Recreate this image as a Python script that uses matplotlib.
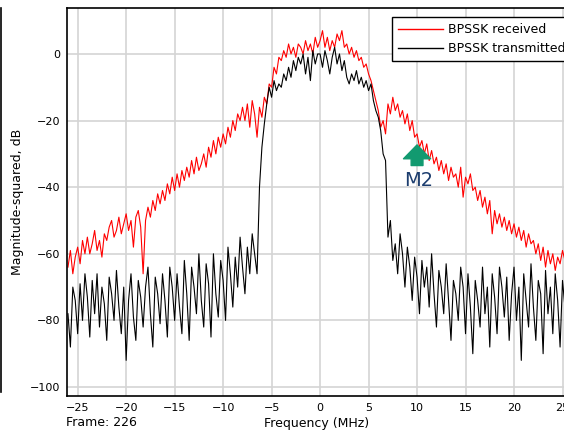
import numpy as np
import matplotlib
matplotlib.use("Agg")
import matplotlib.pyplot as plt
from matplotlib.lines import Line2D

# frequency axis (MHz), 0.25 MHz step
freq = np.arange(206) * 0.25 - 26.0

received = [
    -64, -59, -66, -61, -58, -63, -56, -60,
    -55, -60, -57, -53, -59, -56, -61, -54,
    -56, -52, -50, -55, -53, -49, -54, -51,
    -48, -53, -50, -58, -49, -47, -52, -66,
    -50, -46, -49, -44, -47, -42, -45, -41,
    -44, -39, -42, -37, -41, -36, -40, -35,
    -38, -34, -37, -32, -36, -31, -35, -33,
    -30, -34, -28, -31, -26, -30, -25, -28,
    -24, -27, -22, -25, -20, -23, -18, -20,
    -16, -20, -15, -22, -14, -18, -25, -16,
    -19, -13, -15, -9, -10, -4, -6, -1,
    -2, 1, -1, 3, 0, 2, -1, 3,
    2, 0, 4, 1, 3, 0, 5, 2,
    4, 7, 2, 5, 1, 4, 2, 6,
    4, 7, 2, 3, 0, 2, -1, 1,
    -2, -1, -4, -3, -6, -8, -11, -14,
    -17, -22, -20, -24, -15, -18, -13, -17,
    -15, -19, -17, -21, -18, -23, -20, -25,
    -24, -28, -26, -30, -27, -32, -29, -33,
    -31, -35, -32, -36, -33, -38, -34, -37,
    -36, -40, -34, -43, -37, -39, -36, -41,
    -40, -44, -41, -46, -43, -48, -44, -54,
    -47, -51, -48, -52, -49, -53, -50, -54,
    -51, -55, -52, -56, -53, -58, -54, -57,
    -56, -60, -57, -62, -58, -64, -59, -63,
    -60, -65, -61, -63, -59, -62,
]

transmitted = [
    -78, -88, -70, -74, -84, -69, -80, -66,
    -73, -85, -68, -78, -66, -82, -70, -75,
    -86, -67, -72, -80, -65, -76, -84, -70,
    -92, -74, -66, -79, -86, -68, -73, -82,
    -70, -64, -78, -88, -67, -72, -81, -66,
    -74, -85, -64, -70, -80, -66, -76, -84,
    -62, -72, -86, -64, -70, -78, -60, -74,
    -82, -63, -69, -85, -60, -72, -79, -62,
    -68, -80, -58, -66, -76, -61, -70, -55,
    -64, -72, -58, -66, -54, -60, -66, -40,
    -28, -21, -15, -10, -13, -8, -11, -9,
    -10, -6, -8, -4, -7, -2, -5, -1,
    -3, 0, -6, -1, -8, 1, -3, 0,
    0, -4, 1, -2, -6, -1, 2, -3,
    0, -5, -2, -7, -9, -6, -8, -5,
    -9, -7, -10, -8, -11, -9, -14, -17,
    -19, -23, -30, -32, -55, -50, -62, -57,
    -66, -54, -60, -70, -58, -64, -74, -61,
    -67, -78, -62, -70, -64, -76, -60, -72,
    -82, -65, -70, -78, -63, -74, -86, -68,
    -72, -80, -64, -70, -84, -66, -76, -90,
    -68, -74, -82, -64, -78, -70, -88, -66,
    -73, -84, -64, -70, -79, -67, -86, -72,
    -64, -80, -70, -92, -66, -74, -82, -63,
    -76, -86, -68, -72, -90, -65, -78, -70,
    -84, -66, -74, -88, -68, -76,
]

xticks = [-25, -20, -15, -10, -5, 0, 5, 10, 15, 20, 25]
yticks = [0, -20, -40, -60, -80, -100]

W, H = 564, 433
fig = plt.figure(figsize=(W / 100, H / 100), dpi=100)
ax = fig.add_axes([67 / W, (H - 396) / H, 499 / W, 388 / H])

ax.plot(freq, received, color="#ff0000", lw=0.8, label="BPSSK received")
ax.plot(freq, transmitted, color="#000000", lw=0.8, label="BPSSK transmitted")

ax.set_xlim(-26.1, 25.36)
ax.set_ylim(-102.7, 13.8)
ax.set_xticks(xticks)
ax.set_yticks(yticks)
ax.tick_params(length=0, pad=5, labelsize=8)
ax.grid(True, color="#d4d4d4", lw=1.2)
ax.set_axisbelow(True)
for s in ax.spines.values():
    s.set_linewidth(1.2)

ax.set_ylabel("Magnitude-squared, dB", fontsize=9, labelpad=4)
ax.set_xlabel("Frequency (MHz)", fontsize=9, labelpad=3)
fig.text(66 / W, 1 - 423 / H, "Frame: 226", fontsize=9, va="center")

leg = ax.legend(loc="upper left", bbox_to_anchor=(392 / W, 1 - 17 / H),
                bbox_transform=fig.transFigure, borderaxespad=0, fontsize=9,
                handlelength=3.6, handletextpad=0.35, labelspacing=0.45,
                borderpad=0.5, fancybox=False, framealpha=1)
leg.get_frame().set_edgecolor("black")
leg.get_frame().set_linewidth(1.0)
for h in leg.get_lines():
    h.set_linewidth(1.0)

# marker M2
ax.annotate("", xy=(10, -27.3), xytext=(10, -33.5),
            arrowprops=dict(arrowstyle="simple,head_length=1.0,head_width=1.95,tail_width=0.85",
                            color="#129a70", shrinkA=0, shrinkB=0, mutation_scale=10))
ax.plot([10, 10], [-29.5, -32.8], color="#6fd0ab", lw=1.2)
ax.text(10.2, -38, "M2", color="#1c3d6e", fontsize=14, ha="center", va="center")

# window edge on the left
fig.add_artist(Line2D([0.001, 0.001], [1 - 8 / H, 1 - 392 / H],
                      transform=fig.transFigure, color="black", lw=1.2))

fig.savefig("out.png", dpi=100)
